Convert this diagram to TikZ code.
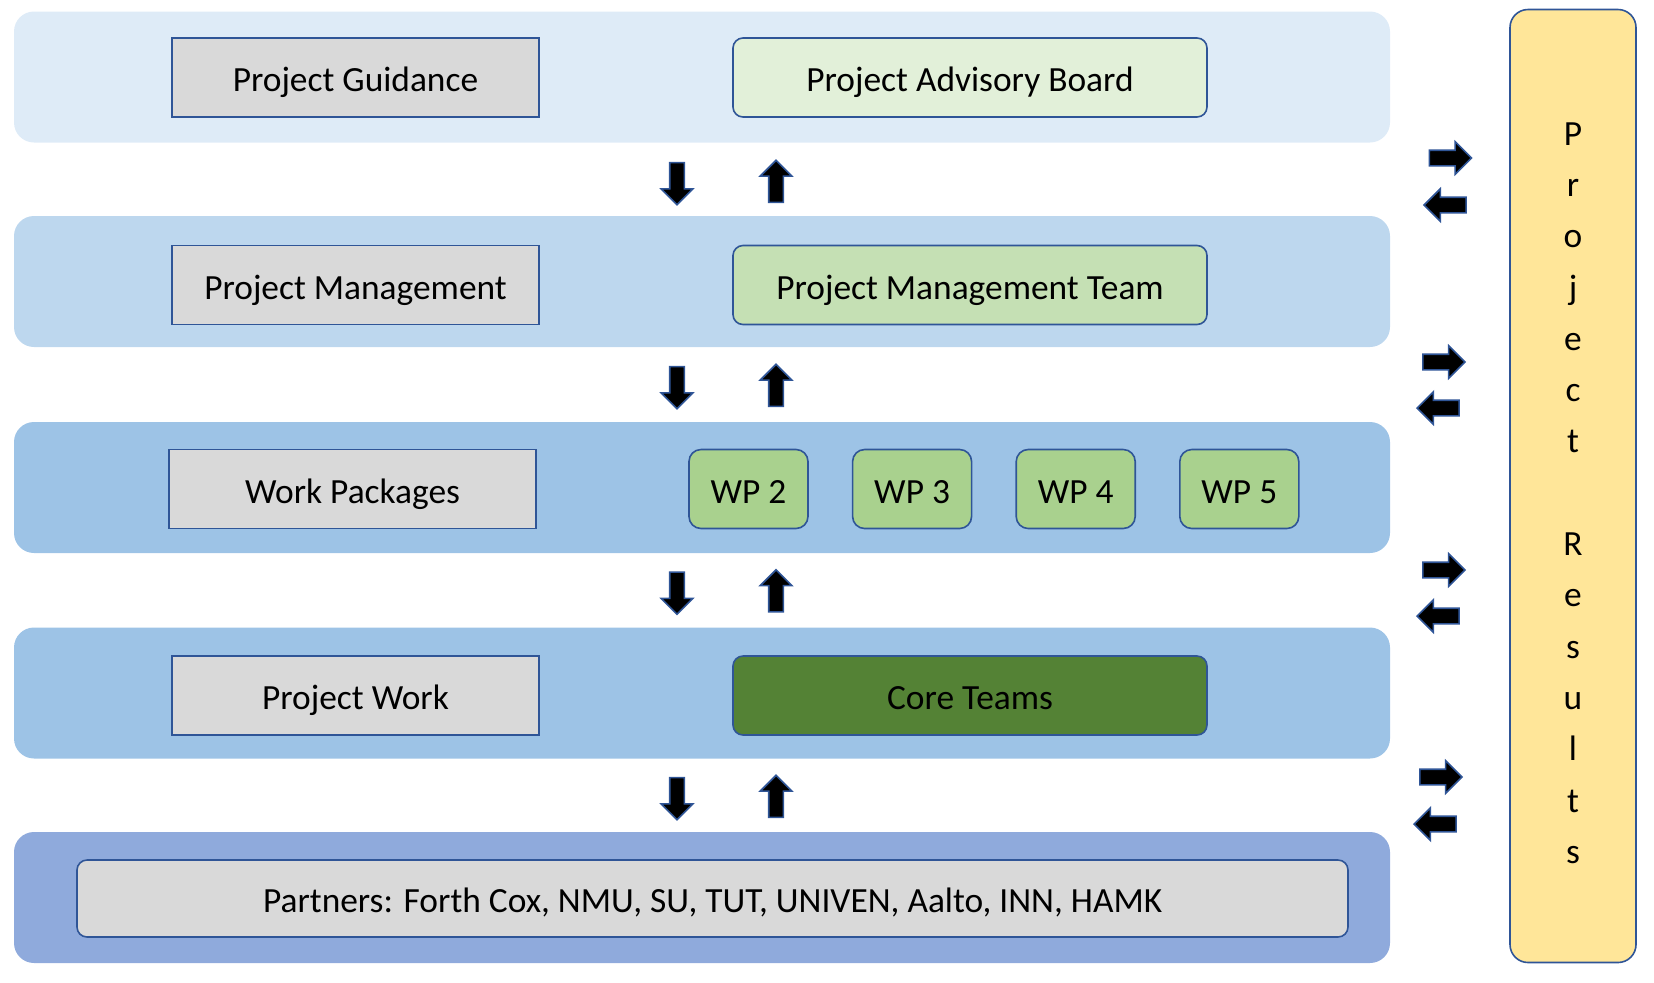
\documentclass[tikz,border=0pt]{standalone}
\usepackage{fontspec}
\setmainfont{Carlito}
\usetikzlibrary{shapes.arrows,positioning}
\definecolor{bandA}{HTML}{DEEBF7}
\definecolor{bandB}{HTML}{BDD7EE}
\definecolor{bandC}{HTML}{9DC3E6}
\definecolor{bandD}{HTML}{8FAADC}
\definecolor{edgeblue}{HTML}{2F5597}
\definecolor{greybox}{HTML}{D9D9D9}
\definecolor{greenA}{HTML}{E2F0D9}
\definecolor{greenB}{HTML}{C5E0B4}
\definecolor{greenC}{HTML}{A9D18E}
\definecolor{greenD}{HTML}{548235}
\definecolor{resultfill}{HTML}{FFE699}
\tikzset{
    band/.style={rectangle, rounded corners=10pt, minimum width=688pt, minimum height=65.5pt},
    levelbox/.style={draw=edgeblue, line width=0.8pt, fill=greybox, minimum width=183.5pt, minimum height=39.5pt, text height=16pt, text depth=2pt},
    bodybox/.style={draw=edgeblue, line width=0.8pt, rounded corners=5pt, minimum width=237pt, minimum height=39.5pt, text height=16pt, text depth=2pt},
    wpbox/.style={draw=edgeblue, line width=0.8pt, rounded corners=6pt, fill=greenC, minimum width=59.5pt, minimum height=39.5pt, text height=16pt, text depth=2pt},
    flowv/.style={single arrow, draw=edgeblue, fill=black, line width=0.8pt, inner xsep=3.25pt, inner ysep=0pt, minimum height=21pt, single arrow head extend=4.25pt},
    flowh/.style={single arrow, draw=edgeblue, fill=black, line width=0.8pt, inner xsep=0pt, inner ysep=3.5pt, minimum height=21pt, single arrow head extend=4.25pt}
}
\begin{document}
\begin{tikzpicture}[x=0.5pt, y=-0.5pt, font=\fontsize{17.7}{21}\selectfont]
\useasboundingbox (0,0) rectangle (1654,982);

% layers
\node[band, fill=bandA] (guidance) at (702,77) {};
\node[band, fill=bandB] (management) at (702,281.5) {};
\node[band, fill=bandC] (packages) at (702,487.5) {};
\node[band, fill=bandC] (work) at (702,693) {};
\node[band, fill=bandD] (partnerband) at (702,897.5) {};

% left column
\node[levelbox] (pg) at (355.5,77.5) {Project Guidance};
\node[levelbox] (pm) at (355.5,285) {Project Management};
\node[levelbox] (wp) at (352.5,489) {Work Packages};
\node[levelbox] (pw) at (355.5,695.5) {Project Work};

% right column
\node[bodybox, fill=greenA] (pab) at (970,77.5) {Project Advisory Board};
\node[bodybox, fill=greenB] (pmt) at (970,285) {Project Management Team};
\node[wpbox] (wp2) at (748.5,489) {WP 2};
\node[wpbox, right=21.5pt of wp2] (wp3) {WP 3};
\node[wpbox, right=21.5pt of wp3] (wp4) {WP 4};
\node[wpbox, right=21.5pt of wp4] (wp5) {WP 5};
\node[bodybox, fill=greenD] (core) at (970,695.5) {Core Teams};

\node[bodybox, fill=greybox, minimum width=635.5pt, minimum height=38.5pt] (partners) at (712.5,898.5)
    {Partners: Forth Cox, NMU, SU, TUT, UNIVEN, Aalto, INN, HAMK};

% results
\node[draw=edgeblue, line width=0.8pt, fill=resultfill, rounded corners=9pt,
      minimum width=63pt, minimum height=476.5pt] (results) at (1573,486) {};
\node[align=center, font=\fontsize{17.7}{25.65}\selectfont] (resultstext) at (1573,493)
    {P\\r\\o\\j\\e\\c\\t\\[25.65pt]R\\e\\s\\u\\l\\t\\s};

% up and down between layers
\foreach \y [count=\i] in {182.5,386.5,592,797.5} {
    \node[flowv, shape border rotate=270] (down\i) at (677,\y-2.5) {};
    \node[flowv, shape border rotate=90] (up\i) at (776,\y+2.5) {};
}

% to and from results
\foreach \xr/\yr/\xl/\yl [count=\i] in {1446.5/158/1449/205, 1440/362/1442/408, 1440/570/1442/616, 1437/777/1439/824} {
    \node[flowh] (out\i) at (\xr,\yr) {};
    \node[flowh, shape border rotate=180] (in\i) at (\xl,\yl) {};
}
\end{tikzpicture}
\end{document}
